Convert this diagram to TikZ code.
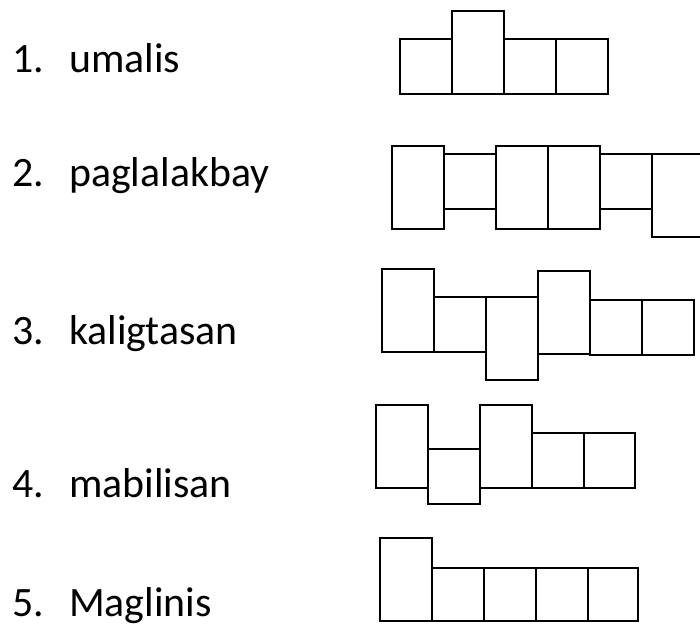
\documentclass[tikz,border=0pt]{standalone}
\usepackage{fontspec}
\setmainfont{Carlito}
\usetikzlibrary{positioning}

\begin{document}
\begin{tikzpicture}[
  x=1pt,y=-1pt,
  lbl/.style={anchor=base west,inner sep=0pt,font=\fontsize{41.8}{50}\selectfont},
  sq/.style={draw,line width=1.7pt,inner sep=0pt,outer sep=0pt,minimum width=52pt,minimum height=55pt,anchor=north west},
  tall/.style={sq,minimum height=83pt}]
\useasboundingbox (0,0) rectangle (700,630);
% labels
\node[lbl] (n1) at (12,72) {1.};  \node[lbl] (w1) at (69,72) {umalis};
\node[lbl] (n2) at (12,186) {2.}; \node[lbl] (w2) at (69,186) {paglalakbay};
\node[lbl] (n3) at (12,344) {3.}; \node[lbl] (w3) at (69,344) {kaligtasan};
\node[lbl] (n4) at (12,497) {4.}; \node[lbl] (w4) at (69,497) {mabilisan};
\node[lbl] (n5) at (12,616) {5.}; \node[lbl] (w5) at (69,616) {Maglinis};
% row 1
\node[sq] (a1) at (400,39) {};
\node[tall] (a2) at (452,11) {};
\node[sq] (a3) at (504,39) {};
\node[sq] (a4) at (556,39) {};
% row 2
\node[tall] (b1) at (392,146) {};
\node[sq] (b2) at (444,154) {};
\node[tall] (b3) at (496,146) {};
\node[tall] (b4) at (548,146) {};
\node[sq] (b5) at (600,154) {};
\node[tall] (b6) at (652,154) {};
% row 3
\node[tall] (c1) at (382,269) {};
\node[sq] (c2) at (434,297) {};
\node[tall] (c3) at (486,297) {};
\node[tall] (c4) at (538,271) {};
\node[sq] (c5) at (590,300) {};
\node[sq] (c6) at (642,300) {};
% row 4
\node[tall] (d1) at (376,405) {};
\node[sq] (d2) at (428,449) {};
\node[tall] (d3) at (480,405) {};
\node[sq] (d4) at (532,433) {};
\node[sq,minimum width=51pt] (d5) at (584,433) {};
% row 5
\node[tall] (e1) at (380,538) {};
\node[sq,minimum height=53pt] (e2) at (432,568) {};
\node[sq,minimum height=53pt,right=0pt of e2] (e3) {};
\node[sq,minimum height=53pt,right=0pt of e3] (e4) {};
\node[sq,minimum height=53pt,minimum width=50pt,right=0pt of e4] (e5) {};
\end{tikzpicture}
\end{document}
